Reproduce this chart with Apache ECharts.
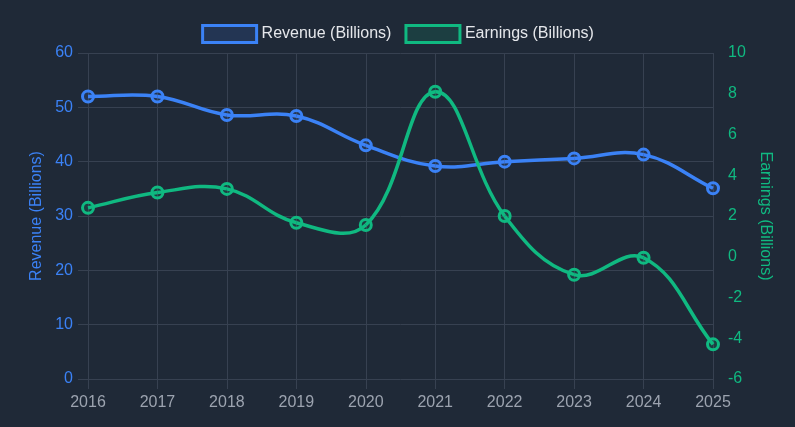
<!DOCTYPE html>
<html>
<head>
<meta charset="utf-8">
<script src="https://cdn.jsdelivr.net/npm/echarts@6/dist/echarts.min.js"></script>
<style>
html,body{margin:0;padding:0;background:#1f2937;}
#c{width:795px;height:427px;}
</style>
</head>
<body>
<div id="c"></div>
<script>
const years = ['2016','2017','2018','2019','2020','2021','2022','2023','2024','2025'];
const revenue = [52.0, 52.0, 48.6, 48.4, 43.0, 39.2, 40.0, 40.6, 41.3, 35.1];
const earnings = [2.4, 3.15, 3.33, 1.67, 1.56, 8.1, 2.0, -0.88, -0.05, -4.3];
const revenueTicks = {min: 0, max: 60, interval: 10};
const earningsTicks = {min: -6, max: 10, interval: 2};

const BLUE = '#3b82f6', GREEN = '#10b981', GRID = '#374151';
const FONT = '"Liberation Sans", Arial, sans-serif';
const TENSION = 0.4;

// Cardinal spline segment (same construction as a tension-based line), using the axes' own coordinates
function splineRenderer(values, color) {
  return function (params, api) {
    const i = params.dataIndex;
    const n = values.length;
    if (i >= n - 1) return null;
    const pt = (j) => api.coord([Math.max(0, Math.min(n - 1, j)), values[Math.max(0, Math.min(n - 1, j))]]);
    function cps(j) {
      const prev = pt(j - 1), cur = pt(j), next = pt(j + 1);
      const d01 = Math.hypot(cur[0] - prev[0], cur[1] - prev[1]);
      const d12 = Math.hypot(next[0] - cur[0], next[1] - cur[1]);
      let s01 = d01 / (d01 + d12), s12 = d12 / (d01 + d12);
      if (isNaN(s01)) s01 = 0;
      if (isNaN(s12)) s12 = 0;
      const fa = TENSION * s01, fb = TENSION * s12;
      return {
        prev: [cur[0] - fa * (next[0] - prev[0]), cur[1] - fa * (next[1] - prev[1])],
        next: [cur[0] + fb * (next[0] - prev[0]), cur[1] + fb * (next[1] - prev[1])]
      };
    }
    const cs = params.coordSys;
    const clampY = (y) => Math.max(cs.y, Math.min(cs.y + cs.height, y));
    const a = pt(i), b = pt(i + 1);
    const c1 = cps(i).next, c2 = cps(i + 1).prev;
    return {
      type: 'bezierCurve',
      shape: {x1: a[0], y1: a[1], x2: b[0], y2: b[1], cpx1: c1[0], cpy1: clampY(c1[1]), cpx2: c2[0], cpy2: clampY(c2[1])},
      style: {stroke: color, lineWidth: 3.5, fill: null}
    };
  };
}

const chart = echarts.init(document.getElementById('c'));
chart.setOption({
  backgroundColor: '#1f2937',
  animation: false,
  textStyle: {fontFamily: FONT},
  legend: {
    top: 19,
    left: 'center',
    itemWidth: 54,
    itemHeight: 17,
    itemGap: 13,
    textStyle: {color: '#e5e7eb', fontSize: 16, fontFamily: FONT},
    data: [
      {name: 'Revenue (Billions)', icon: 'rect', itemStyle: {color: 'rgba(59,130,246,0.15)', borderColor: BLUE, borderWidth: 3}},
      {name: 'Earnings (Billions)', icon: 'rect', itemStyle: {color: 'rgba(16,185,129,0.15)', borderColor: GREEN, borderWidth: 3}}
    ]
  },
  grid: {left: 88, right: 82, top: 53, bottom: 48, containLabel: false},
  xAxis: {
    type: 'category',
    data: years,
    boundaryGap: false,
    axisLine: {show: false},
    axisTick: {show: true, length: 10, lineStyle: {color: GRID}},
    axisLabel: {color: '#9ca3af', fontSize: 16, margin: 16, fontFamily: FONT},
    splitLine: {show: true, lineStyle: {color: GRID, width: 1}}
  },
  yAxis: [
    {
      type: 'value',
      position: 'left',
      min: revenueTicks.min, max: revenueTicks.max, interval: revenueTicks.interval,
      name: 'Revenue (Billions)',
      nameLocation: 'middle',
      nameRotate: 90,
      nameGap: 42,
      nameTextStyle: {color: BLUE, fontSize: 16, fontFamily: FONT},
      axisLine: {show: false},
      axisTick: {show: true, length: 10, lineStyle: {color: GRID}},
      axisLabel: {color: BLUE, fontSize: 16, margin: 15, fontFamily: FONT},
      splitLine: {show: true, lineStyle: {color: GRID, width: 1}}
    },
    {
      type: 'value',
      position: 'right',
      min: earningsTicks.min, max: earningsTicks.max, interval: earningsTicks.interval,
      name: 'Earnings (Billions)',
      nameLocation: 'middle',
      nameRotate: -90,
      nameGap: 44,
      nameTextStyle: {color: GREEN, fontSize: 16, fontFamily: FONT},
      axisLine: {show: false},
      axisTick: {show: false},
      axisLabel: {color: GREEN, fontSize: 16, margin: 15, fontFamily: FONT},
      splitLine: {show: false}
    }
  ],
  series: [
    {
      type: 'custom',
      name: 'revenueCurve',
      coordinateSystem: 'cartesian2d',
      yAxisIndex: 0,
      data: revenue.map((v, i) => [i, v]),
      renderItem: splineRenderer(revenue, BLUE),
      silent: true,
      z: 2
    },
    {
      type: 'custom',
      name: 'earningsCurve',
      coordinateSystem: 'cartesian2d',
      yAxisIndex: 1,
      data: earnings.map((v, i) => [i, v]),
      renderItem: splineRenderer(earnings, GREEN),
      silent: true,
      z: 2
    },
    {
      name: 'Revenue (Billions)',
      type: 'line',
      yAxisIndex: 0,
      data: revenue,
      symbol: 'circle',
      symbolSize: 11,
      lineStyle: {color: BLUE, width: 0, opacity: 0},
      itemStyle: {color: 'rgba(59,130,246,0.15)', borderColor: BLUE, borderWidth: 3},
      z: 3
    },
    {
      name: 'Earnings (Billions)',
      type: 'line',
      yAxisIndex: 1,
      data: earnings,
      symbol: 'circle',
      symbolSize: 11,
      lineStyle: {color: GREEN, width: 0, opacity: 0},
      itemStyle: {color: 'rgba(16,185,129,0.15)', borderColor: GREEN, borderWidth: 3},
      z: 3
    }
  ]
});
</script>
</body>
</html>
